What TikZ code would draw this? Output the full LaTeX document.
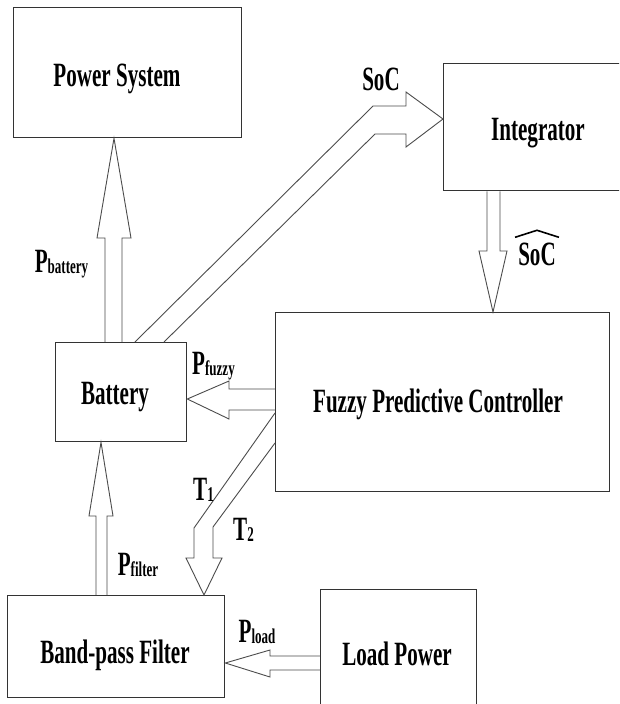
\documentclass[tikz,border=0pt]{standalone}
\usepackage{fontspec}
\setmainfont{Liberation Serif}
\usetikzlibrary{calc}
\newcommand\sqz[1]{\scalebox{0.62}[1]{#1}}
\newcommand\plab[2]{\sqz{\fontsize{34}{34}\selectfont #1\raisebox{-1.5pt}{\fontsize{21}{21}\selectfont #2}}}
\begin{document}
\begin{tikzpicture}[x=1pt,y=-1pt,
  box/.style={draw=black!80, line width=1.3pt, inner sep=0pt, anchor=north west},
  blk/.style={draw=black!70, line width=0.9pt, line join=miter},
  txt/.style={inner sep=0pt, anchor=base, font=\bfseries\fontsize{34}{34}\selectfont},
  lab/.style={inner sep=0pt, anchor=base, font=\bfseries}]
\clip (0,0) rectangle (619,704);
\fill[white] (0,0) rectangle (619,704);
% boxes
\node[box, minimum width=228pt, minimum height=130pt] (ps)  at (13,7)   {};
\node[box, minimum width=220pt, minimum height=127pt] (int) at (443,63) {};
\node[box, minimum width=131pt, minimum height=99pt]  (bat) at (55,342) {};
\node[box, minimum width=334pt, minimum height=179pt] (fpc) at (275,312) {};
\node[box, minimum width=217pt, minimum height=102pt] (bpf) at (7,595)  {};
\node[box, minimum width=156pt, minimum height=140pt] (lp)  at (320,589) {};
% box texts
\node[txt] (pst)  at (117,86)  {\sqz{Power System}};
\node[txt] (intt) at (538,140) {\sqz{Integrator}};
\node[txt] (batt) at (115,404) {\sqz{Battery}};
\node[txt] (fpct) at (438,412) {\sqz{Fuzzy Predictive Controller}};
\node[txt] (bpft) at (115,663) {\sqz{Band-pass Filter}};
\node[txt] (lpt)  at (397,665) {\sqz{Load Power}};
% block arrows
\draw[blk] (105,0 |- bat.north) -- (105,238) -- (97,238) -- (114,0 |- ps.south)
           -- (131,238) -- (122,238) -- (122,0 |- bat.north);
\draw[blk] (96,0 |- bpf.north) -- (96,516) -- (89,516) -- (101,0 |- bat.south)
           -- (113,516) -- (107,516) -- (107,0 |- bpf.north);
\draw[blk] (487,0 |- int.south) -- (487,251) -- (479,251) -- (493,0 |- fpc.north)
           -- (507,251) -- (500,251) -- (500,0 |- int.south);
\draw[blk] (fpc.west |- 0,389) -- (229,389) -- (229,381) -- (bat.east |- 0,399)
           -- (229,419) -- (229,410) -- (fpc.west |- 0,410);
\draw[blk] (lp.west |- 0,656) -- (270,656) -- (270,650) -- (bpf.east |- 0,663)
           -- (270,677) -- (270,670) -- (lp.west |- 0,670);
\draw[blk] (135,0 |- bat.north) -- (373,106) -- (406,106) -- (406,92) -- (int.west |- 0,119)
           -- (406,147) -- (406,134) -- (375,134) -- (164,0 |- bat.north);
\draw[blk] (fpc.west |- 0,413) -- (194,528) -- (194,558) -- (186,558) -- (204,0 |- bpf.north)
           -- (222,558) -- (213,558) -- (213,527) -- (fpc.west |- 0,443);
% labels
\node[lab] (lbat) at (61.5,272) {\plab{P}{battery}};
\node[lab] (lfuz) at (213.5,374) {\plab{P}{fuzzy}};
\node[lab] (lfil) at (138,575) {\plab{P}{filter}};
\node[lab] (lload) at (257,642) {\plab{P}{load}};
\node[lab] (lsoc) at (381,90) {\sqz{\fontsize{34}{34}\selectfont SoC}};
\node[lab] (lsoch) at (537,265) {\sqz{\fontsize{34}{34}\selectfont SoC}};
\draw[line width=1.6pt] ($(lsoch.north west)+(-3,-5)$) -- ($(lsoch.north)+(0,-12)$) -- ($(lsoch.north east)+(3,-5)$);
\node[lab] (lt1) at (203.5,500) {\plab{T}{1}};
\node[lab] (lt2) at (243.5,540) {\plab{T}{2}};
\end{tikzpicture}
\end{document}
